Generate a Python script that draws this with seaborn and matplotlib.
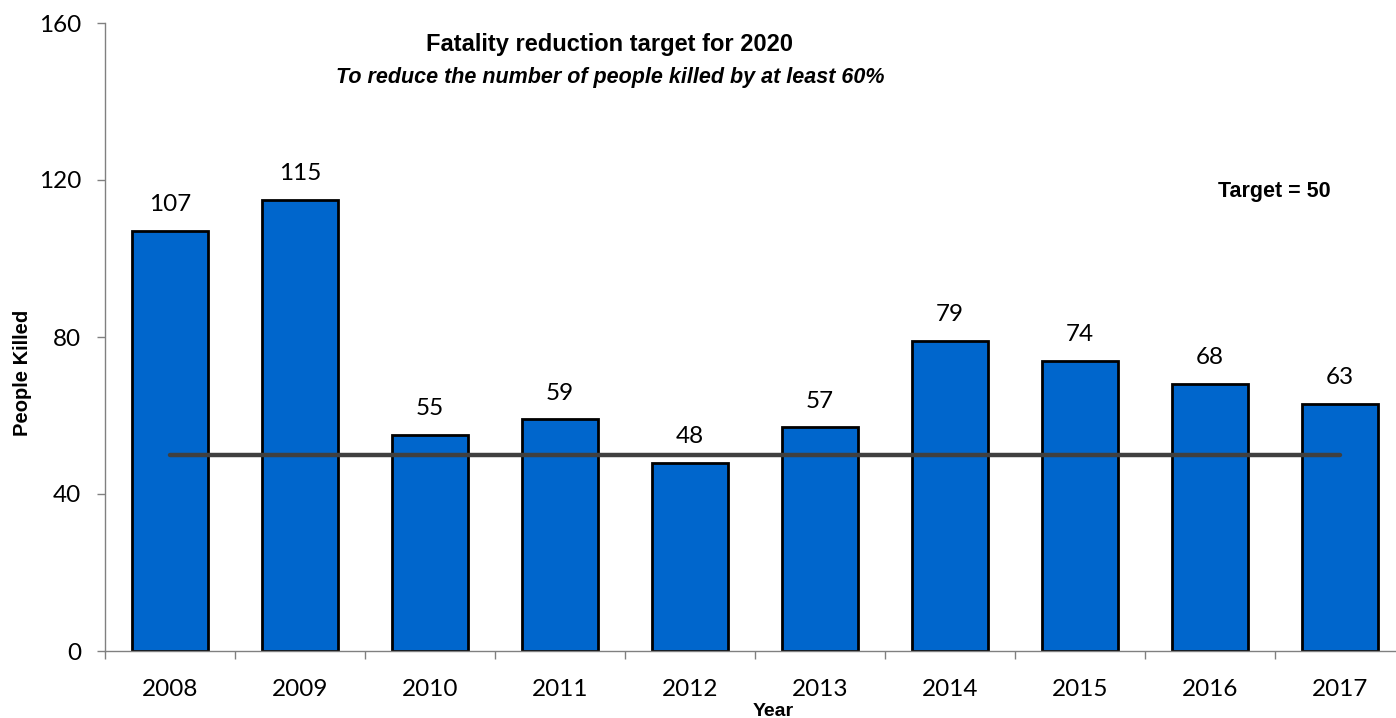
import matplotlib
matplotlib.use('Agg')
import matplotlib.pyplot as plt
import seaborn as sns
import numpy as np
import pandas as pd

# data
years = ['2008', '2009', '2010', '2011', '2012', '2013', '2014', '2015', '2016', '2017']
killed = [107, 115, 55, 59, 48, 57, 79, 74, 68, 63]
target = 50

df = pd.DataFrame({'Year': years, 'Killed': killed})

sns.set_style('white')
plt.rcParams['font.family'] = ['Lato', 'DejaVu Sans']
plt.rcParams['text.color'] = 'black'
plt.rcParams['axes.labelcolor'] = 'black'
plt.rcParams['xtick.color'] = 'black'
plt.rcParams['ytick.color'] = 'black'

fig = plt.figure(figsize=(13.96, 7.18), dpi=100)
ax = fig.add_axes([105 / 1396, 1 - 651 / 718, 1300 / 1396, 628 / 718])

sns.barplot(data=df, x='Year', y='Killed', order=years, color='#0066CC',
            saturation=1, width=0.58, edgecolor='black', linewidth=2, ax=ax)

# target line across the bar centres
ax.plot([0, len(years) - 1], [target, target], color='#404040', lw=3.2, zorder=5)

for i, v in enumerate(killed):
    ax.text(i, v + 4.0, str(v), ha='center', va='bottom', fontsize=17.5)

ax.set_xlim(-0.5, len(years) - 0.5)
ax.set_ylim(0, 160)
ax.set_yticks([0, 40, 80, 120, 160])
ax.tick_params(axis='y', direction='out', length=6, width=1, color='#808080',
               labelcolor='black', pad=11, labelsize=17.5, left=True)
ax.set_xticks(np.arange(-0.5, len(years) + 0.5, 1), minor=True)
ax.tick_params(axis='x', which='major', length=0, pad=20, labelsize=17.5, labelcolor='black')
ax.tick_params(axis='x', which='minor', direction='out', length=6, width=1,
               color='#808080', bottom=True)

for s in ['top', 'right']:
    ax.spines[s].set_visible(False)
for s in ['left', 'bottom']:
    ax.spines[s].set_color('#808080')
    ax.spines[s].set_linewidth(1)

ax.set_xlabel('Year', fontsize=14, fontweight='bold', family='Liberation Sans')
ax.set_ylabel('People Killed', fontsize=14.5, fontweight='bold', family='Liberation Sans')
ax.xaxis.set_label_coords(668 / 1300, -52 / 628)
ax.yaxis.set_label_coords(-73 / 1300, 278 / 628)

fig.text(610 / 1396, 1 - 45 / 718, 'Fatality reduction target for 2020', ha='center',
         va='center', fontsize=17, fontweight='bold', family='Liberation Sans')
fig.text(610 / 1396, 1 - 78 / 718, 'To reduce the number of people killed by at least 60%',
         ha='center', va='center', fontsize=15.5, fontweight='bold', style='italic',
         family='Liberation Sans')
fig.text(1274 / 1396, 1 - 192 / 718, 'Target = 50', ha='center', va='center',
         fontsize=15.5, fontweight='bold', family='Liberation Sans')

fig.savefig('out.png', dpi=100)
